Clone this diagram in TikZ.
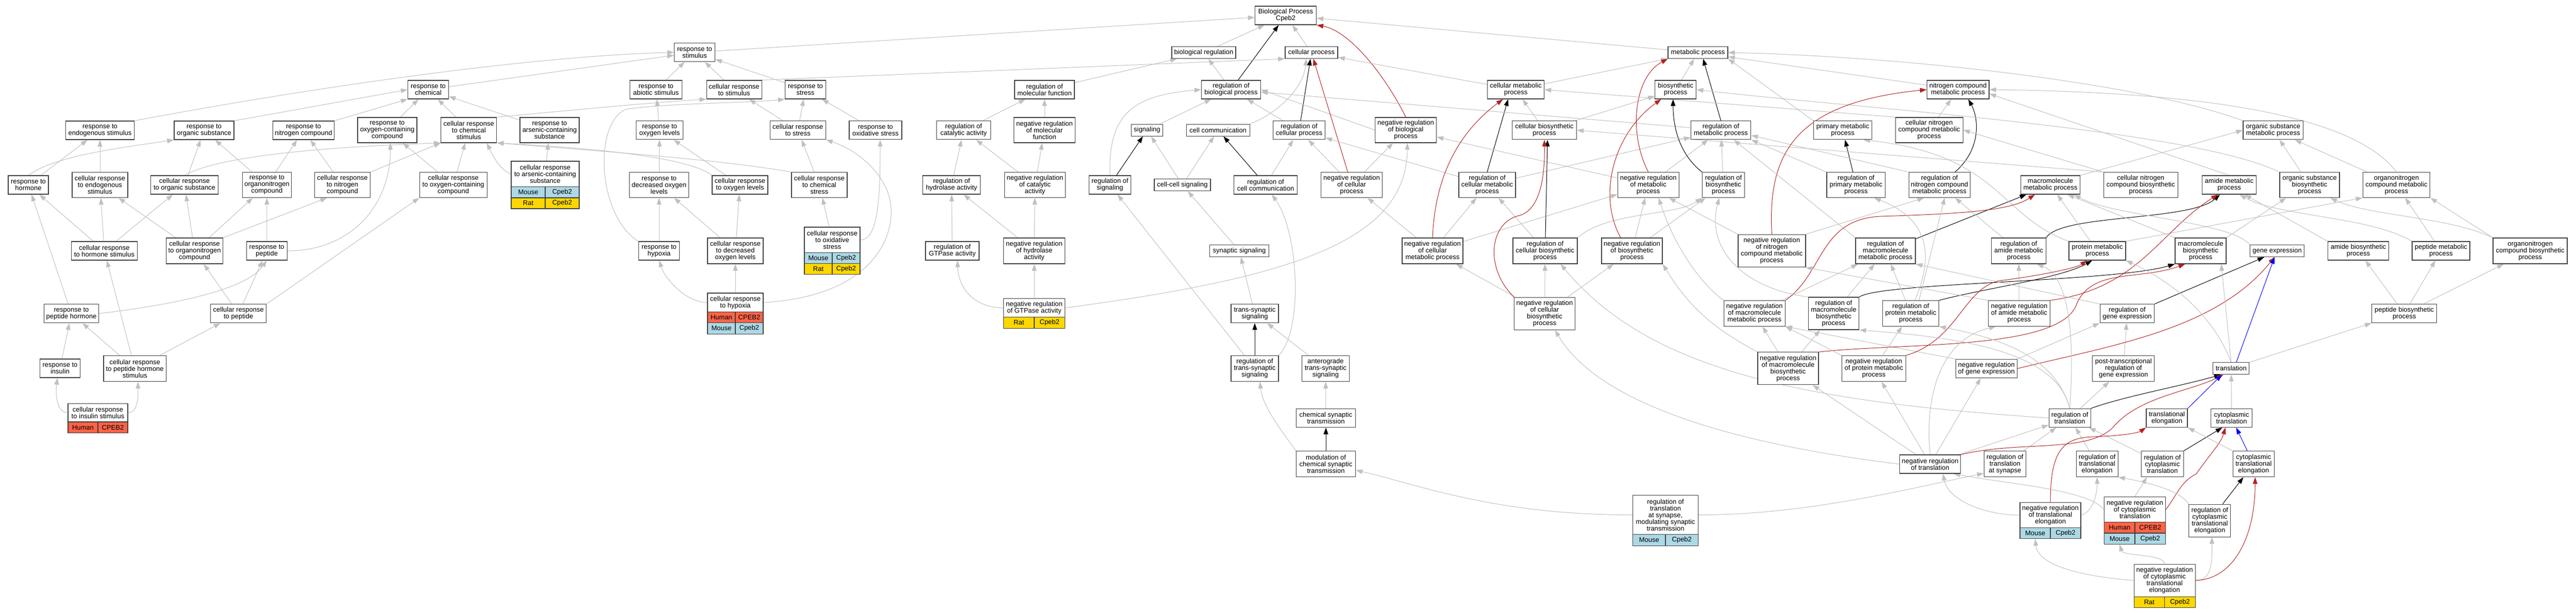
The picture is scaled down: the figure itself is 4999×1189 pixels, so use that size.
\documentclass[tikz,border=0pt]{standalone}
\usepackage{fontspec}
\setmainfont{Liberation Sans}
\usetikzlibrary{arrows.meta}
\definecolor{eg}{HTML}{C0C0C0}
\definecolor{er}{HTML}{B22222}
\definecolor{eb}{HTML}{0000FF}
\definecolor{hum}{HTML}{FF6347}
\definecolor{mou}{HTML}{ADD8E6}
\definecolor{rat}{HTML}{FFD700}
\newcommand{\gofont}{\fontsize{13}{13}\selectfont}
\pgfdeclarelayer{bg}
\pgfsetlayers{bg,main}
\tikzset{
  box/.style={draw=black!75, line width=1.2pt, fill=white, inner sep=0pt, align=center, font=\gofont},
  gcell/.style={draw=black!75, line width=1.2pt, inner sep=0pt, font=\gofont},
  ge/.style={draw=eg, line width=1.0pt, -{Triangle[length=13pt,width=9pt]}},
  ke/.style={draw=black, line width=1.0pt, -{Triangle[length=13pt,width=9pt]}},
  re/.style={draw=er, line width=1.0pt, -{Triangle[length=13pt,width=9pt]}},
  be/.style={draw=eb, line width=1.0pt, -{Triangle[length=13pt,width=9pt]}}
}
\newcommand{\gn}[6]{\node[box,minimum width=#4pt,minimum height=#5pt] (#1) at (#2,-#3) {#6};}
\newcommand{\gr}[9]{%
  \node[gcell,fill=#7,minimum width=#5pt,minimum height=#6pt] (#1-l) at (#2,-#4) {#8};
  \node[gcell,fill=#7,minimum width=#5pt,minimum height=#6pt] (#1-r) at (#3,-#4) {#9};}
\begin{document}
\begin{tikzpicture}[x=1pt,y=1pt]
\useasboundingbox (0,0) rectangle (4999,-1189);
% ---------- nodes ----------
\gn{bp}{2495}{30}{119}{36}{Biological Process\\Cpeb2}
\gn{rstim}{1348}{101.6}{79}{36}{response to\\stimulus}
\gn{breg}{2336}{102}{124}{23}{biological regulation}
\gn{cproc}{2545}{102}{102}{23}{cellular process}
\gn{metab}{3295}{102}{116}{23}{metabolic process}
\gn{rchem}{831}{174}{79}{36}{response to\\chemical}
\gn{rabio}{1273}{174}{101}{36}{response to\\abiotic stimulus}
\gn{crstim}{1424.6}{174}{107}{36}{cellular response\\to stimulus}
\gn{rstress}{1563}{174}{79}{36}{response to\\stress}
\gn{rmf}{2027}{174}{116}{36}{regulation of\\molecular function}
\gn{rbp}{2389}{174}{115}{36}{regulation of\\biological process}
\gn{cmp}{2941.6}{174}{110}{36}{cellular metabolic\\process}
\gn{bsp}{3251.7}{174}{80}{36}{biosynthetic\\process}
\gn{ncmp}{3799.7}{174}{120.5}{36}{nitrogen compound\\metabolic process}
\gn{rendo}{194}{253}{133}{36}{response to\\endogenous stimulus}
\gn{rorg}{396}{253}{116}{36}{response to\\organic substance}
\gn{rnitro}{589}{253}{119}{36}{response to\\nitrogen compound}
\gn{roxy}{751.5}{252.4}{115}{49}{response to\\oxygen-containing\\compound}
\gn{crchem}{909.8}{252.4}{108}{49}{cellular response\\to chemical\\stimulus}
\gn{rars}{1066.5}{252.4}{115}{49}{response to\\arsenic-containing\\substance}
\gn{roxl}{1280}{252.8}{91}{36}{response to\\oxygen levels}
\gn{crstress}{1548.3}{252.8}{108}{36}{cellular response\\to stress}
\gn{roxs}{1699}{252.8}{102}{36}{response to\\oxidative stress}
\gn{rca}{1870}{252.8}{105.5}{36}{regulation of\\catalytic activity}
\gn{nrmf}{2027}{252.4}{119}{49}{negative regulation\\of molecular\\function}
\gn{sig}{2226}{252.6}{61}{23}{signaling}
\gn{ccomm}{2363.7}{252.6}{123}{23}{cell communication}
\gn{rcp}{2521}{252.8}{101}{36}{regulation of\\cellular process}
\gn{nrbp}{2728}{252.4}{119}{49}{negative regulation\\of biological\\process}
\gn{cbp}{2997}{252.8}{125}{36}{cellular biosynthetic\\process}
\gn{rmp}{3339.5}{252.8}{116.5}{36}{regulation of\\metabolic process}
\gn{pmp}{3576}{252.8}{113.5}{36}{primary metabolic\\process}
\gn{cncmp}{3743.7}{252.4}{131}{49}{cellular nitrogen\\compound metabolic\\process}
\gn{osmp}{4411.2}{252.8}{116.4}{36}{organic substance\\metabolic process}
\gn{rhorm}{55}{359}{78}{36}{response to\\hormone}
\gn{crendo}{194}{359}{108}{49}{cellular response\\to endogenous\\stimulus}
\gn{crorg}{358}{359}{131}{36}{cellular response\\to organic substance}
\gn{ronc}{518}{359}{95}{49}{response to\\organonitrogen\\compound}
\gn{crnitro}{664.5}{359}{108}{49}{cellular response\\to nitrogen\\compound}
\gn{croxy}{879.7}{359}{131}{49}{cellular response\\to oxygen-containing\\compound}
\gn{crars}{1058}{337.7}{132}{49.4}{cellular response\\to arsenic-containing\\substance}
\gr{crarsa}{1025}{1091}{373.15}{66}{21.5}{mou}{Mouse}{Cpeb2}
\gr{crarsb}{1025}{1091}{394.4}{66}{21}{rat}{Rat}{Cpeb2}
\gn{rdox}{1279}{359}{115}{49}{response to\\decreased oxygen\\levels}
\gn{croxl}{1436}{359}{108}{36}{cellular response\\to oxygen levels}
\gn{crcs}{1590}{359}{108}{49}{cellular response\\to chemical\\stress}
\gn{rha}{1846.6}{359}{112}{36}{regulation of\\hydrolase activity}
\gn{nrca}{2008.5}{359}{118}{49}{negative regulation\\of catalytic\\activity}
\gn{rsig}{2154}{359}{81.5}{36}{regulation of\\signaling}
\gn{ccsig}{2294.5}{359}{109}{23}{cell-cell signaling}
\gn{rcc}{2456}{359}{123}{36}{regulation of\\cell communication}
\gn{nrcp}{2623}{359}{119}{49}{negative regulation\\of cellular\\process}
\gn{rcmp}{2886}{359}{110}{49}{regulation of\\cellular metabolic\\process}
\gn{nrmp}{3198.7}{359}{119}{49}{negative regulation\\of metabolic\\process}
\gn{rbsp}{3344.5}{359}{82}{49}{regulation of\\biosynthetic\\process}
\gn{rprim}{3601.8}{359}{113.5}{49}{regulation of\\primary metabolic\\process}
\gn{rncmp}{3763.8}{359}{119.5}{49}{regulation of\\nitrogen compound\\metabolic process}
\gn{mmp}{3979}{359}{115}{36}{macromolecule\\metabolic process}
\gn{cncbp}{4154.3}{359}{144}{49}{cellular nitrogen\\compound biosynthetic\\process}
\gn{amp}{4326}{359}{105}{36}{amide metabolic\\process}
\gn{osbp}{4482}{359}{116}{49}{organic substance\\biosynthetic\\process}
\gn{oncmp}{4650.5}{359}{130.5}{49}{organonitrogen\\compound metabolic\\process}
\gn{crhorm}{202.5}{487}{127.5}{36}{cellular response\\to hormone stimulus}
\gn{cronc}{377.6}{487}{110}{50}{cellular response\\to organonitrogen\\compound}
\gn{rpep}{517.7}{487}{79}{36}{response to\\peptide}
\gn{rhyp}{1279}{487}{79}{36}{response to\\hypoxia}
\gn{crdox}{1427}{487}{108}{50}{cellular response\\to decreased\\oxygen levels}
\gn{croxs}{1615}{465.75}{108}{49.7}{cellular response\\to oxidative\\stress}
\gr{croxsa}{1588}{1642}{501.1}{54}{21}{mou}{Mouse}{Cpeb2}
\gr{croxsb}{1588}{1642}{522.2}{54}{21}{rat}{Rat}{Cpeb2}
\gn{rgtp}{1848}{487}{104}{36}{regulation of\\GTPase activity}
\gn{nrha}{2007}{487}{119}{50}{negative regulation\\of hydrolase\\activity}
\gn{ssig}{2405}{487}{115}{23}{synaptic signaling}
\gn{nrcmp}{2780}{487}{118}{50}{negative regulation\\of cellular\\metabolic process}
\gn{rcbp}{2998.4}{487}{125}{50}{regulation of\\cellular biosynthetic\\process}
\gn{nrbsp}{3167}{487}{118}{50}{negative regulation\\of biosynthetic\\process}
\gn{nrncmp}{3438.4}{487}{131}{63.5}{negative regulation\\of nitrogen\\compound metabolic\\process}
\gn{rmmp}{3659}{487}{116}{50}{regulation of\\macromolecule\\metabolic process}
\gn{ramp}{3917.5}{487}{105.5}{50}{regulation of\\amide metabolic\\process}
\gn{prmp}{4070}{487}{110}{36}{protein metabolic\\process}
\gn{mbp}{4270.5}{487}{99}{50}{macromolecule\\biosynthetic\\process}
\gn{gexp}{4419}{487}{105}{23}{gene expression}
\gn{abp}{4576.6}{487}{118}{36}{amide biosynthetic\\process}
\gn{pepmp}{4737}{487}{112}{36}{peptide metabolic\\process}
\gn{oncbp}{4910}{487}{144}{50}{organonitrogen\\compound biosynthetic\\process}
\gn{rph}{138.5}{608.7}{106.6}{36}{response to\\peptide hormone}
\gn{crpep}{462.8}{608.7}{108}{36}{cellular response\\to peptide}
\gn{crhyp}{1427}{587.2}{108}{36.3}{cellular response\\to hypoxia}
\gr{crhypa}{1400}{1454}{615.9}{54}{21.1}{hum}{Human}{CPEB2}
\gr{crhypb}{1400}{1454}{637.3}{54}{21.8}{mou}{Mouse}{Cpeb2}
\gn{nrgtp}{2007}{597.7}{119}{35.8}{negative regulation\\of GTPase activity}
\gr{nrgtpa}{1977.25}{2036.75}{626.5}{59.5}{22}{rat}{Rat}{Cpeb2}
\gn{tss}{2435}{608.7}{92}{36}{trans-synaptic\\signaling}
\gn{nrcbsp}{2997.5}{608.6}{118}{63}{negative regulation\\of cellular\\biosynthetic\\process}
\gn{nrmmp}{3404.7}{608.4}{119}{49.6}{negative regulation\\of macromolecule\\metabolic process}
\gn{rmbp}{3558.4}{608.5}{98.6}{63}{regulation of\\macromolecule\\biosynthetic\\process}
\gn{rprmp}{3708}{608.4}{109}{49.6}{regulation of\\protein metabolic\\process}
\gn{nramp}{3918.4}{608.4}{120}{49.6}{negative regulation\\of amide metabolic\\process}
\gn{rgexp}{4128}{608.6}{105.6}{36}{regulation of\\gene expression}
\gn{pepbp}{4665.7}{608.7}{126}{36}{peptide biosynthetic\\process}
\gn{rins}{116.5}{715}{78}{36}{response to\\insulin}
\gn{crph}{261.7}{715.5}{121.5}{50}{cellular response\\to peptide hormone\\stimulus}
\gn{rtss}{2435}{715.5}{92}{50}{regulation of\\trans-synaptic\\signaling}
\gn{atss}{2572.5}{715.5}{92}{50}{anterograde\\trans-synaptic\\signaling}
\gn{nrmbp}{3470}{715.3}{118}{63}{negative regulation\\of macromolecule\\biosynthetic\\process}
\gn{nrprmp}{3636.3}{715.5}{124}{50}{negative regulation\\of protein metabolic\\process}
\gn{nrgexp}{3854.8}{715.4}{119.5}{36}{negative regulation\\of gene expression}
\gn{ptrge}{4120.8}{715.5}{120}{50}{post-transcriptional\\regulation of\\gene expression}
\gn{transl}{4329.8}{715.3}{70}{23}{translation}
\gn{crinsul}{190}{801.1}{116}{35.6}{cellular response\\to insulin stimulus}
\gr{crinsula}{161}{219}{829.8}{58}{21.8}{hum}{Human}{CPEB2}
\gn{cst}{2573}{811.4}{115}{36}{chemical synaptic\\transmission}
\gn{rtrans}{4016.6}{811.4}{81}{36}{regulation of\\translation}
\gn{telong}{4205}{811.4}{80}{36}{translational\\elongation}
\gn{ctrans}{4330.6}{811.4}{80}{36}{cytoplasmic\\translation}
\gn{mcst}{2573}{900.8}{115}{50}{modulation of\\chemical synaptic\\transmission}
\gn{nrtrans}{3745.6}{901}{118}{36}{negative regulation\\of translation}
\gn{rtas}{3890.8}{900.8}{81}{50}{regulation of\\translation\\at synapse}
\gn{rte}{4069.6}{900.8}{81}{50}{regulation of\\translational\\elongation}
\gn{rct}{4196.3}{900.8}{82}{50}{regulation of\\cytoplasmic\\translation}
\gn{cte}{4373.3}{900.8}{80}{50}{cytoplasmic\\translational\\elongation}
\gn{rtsm}{3232}{999.5}{127}{75.8}{regulation of\\translation\\at synapse,\\modulating synaptic\\transmission}
\gr{rtsma}{3200.25}{3263.75}{1048.5}{63.5}{22.2}{mou}{Mouse}{Cpeb2}
\gn{nrte}{3979}{999.9}{118}{49}{negative regulation\\of translational\\elongation}
\gr{nrtea}{3949.5}{4008.5}{1035.1}{59}{21.4}{mou}{Mouse}{Cpeb2}
\gn{nrct}{4143}{988.95}{119}{49.3}{negative regulation\\of cytoplasmic\\translation}
\gr{nrcta}{4113.25}{4172.75}{1024.3}{59.5}{21.4}{hum}{Human}{CPEB2}
\gr{nrctb}{4113.25}{4172.75}{1045.7}{59.5}{21.4}{mou}{Mouse}{Cpeb2}
\gn{rcte}{4288.3}{1010.6}{81}{63}{regulation of\\cytoplasmic\\translational\\elongation}
\gn{nrcte}{4200.6}{1126.75}{119}{63.1}{negative regulation\\of cytoplasmic\\translational\\elongation}
\gr{nrctea}{4170.85}{4230.35}{1168.8}{59.5}{21}{rat}{Rat}{Cpeb2}
% ---------- edges ----------
\begin{pgfonlayer}{bg}
\fill[white] (0,0) rectangle (4999,-1189);
% top
\draw[ge] (rstim) -- (bp);
\draw[ge] (breg) -- (bp);
\draw[ge] (cproc) -- (bp);
\draw[ge] (metab) -- (bp);
\draw[ke] (rbp) -- (bp);
\draw[re] (nrbp.north) .. controls (2690,-150) and (2620,-60) .. (bp.south east);
% response branch
\draw[ge] (rchem) -- (rstim);
\draw[ge] (rabio) -- (rstim);
\draw[ge] (crstim) -- (rstim);
\draw[ge] (rstress) -- (rstim);
\draw[ge] (rendo.north east) .. controls (550,-180) and (1000,-110) .. (rstim.west);
\draw[ge] (rorg.north east) -- (rchem.west);
\draw[ge] (rnitro.north east) -- (rchem.south west);
\draw[ge] (roxy) -- (rchem);
\draw[ge] (crchem) -- (rchem);
\draw[ge] (rars) -- (rchem);
\draw[ge] (crchem.north east) .. controls (1100,-215) and (1250,-200) .. (crstim.south west);
\draw[ge] (roxl) -- (rabio);
\draw[ge] (crstress) -- (crstim);
\draw[ge] (crstress) -- (rstress);
\draw[ge] (roxs) -- (rstress);
\draw[ge] (crstim.north east) -- (cproc.south west);
\draw[ge] (rhorm) -- (rendo);
\draw[ge] (rhorm.north) .. controls (110,-300) and (250,-285) .. (rorg.south west);
\draw[ge] (crendo) -- (rendo);
\draw[ge] (crorg) -- (rorg);
\draw[ge] (crorg.north) .. controls (430,-300) and (650,-285) .. (crchem.south west);
\draw[ge] (crnitro.north east) -- (crchem.south west);
\draw[ge] (ronc) -- (rorg);
\draw[ge] (ronc) -- (rnitro);
\draw[ge] (crnitro) -- (rnitro);
\draw[ge] (croxy) -- (roxy);
\draw[ge] (croxy) -- (crchem);
\draw[ge] (rpep.east) .. controls (680,-487) and (758,-400) .. ([xshift=6pt]roxy.south);
\draw[ge] (rpep) -- (ronc);
\draw[ge] (crhorm) -- (rhorm);
\draw[ge] (crhorm) -- (crendo);
\draw[ge] (crhorm) -- (crorg);
\draw[ge] (cronc) -- (crendo);
\draw[ge] (cronc) -- (crorg);
\draw[ge] (cronc) -- (ronc);
\draw[ge] (cronc.north east) -- ([xshift=-30pt]crnitro.south);
\draw[ge] (rph) -- (rhorm);
\draw[ge] (rph.east) .. controls (350,-590) and (480,-560) .. (rpep.south);
\draw[ge] (crpep) -- (cronc);
\draw[ge] (crpep) -- (rpep);
\draw[ge] (crpep.north east) -- (croxy.south west);
\draw[ge] (crph) -- (crhorm);
\draw[ge] (crph) -- (rph);
\draw[ge] (crph) -- (crpep);
\draw[ge] (rins) -- (rph);
\draw[ge] (crinsul.west) .. controls (108,-801) and (108,-760) .. ([xshift=-5pt]rins.south);
\draw[ge] (crinsul.east) .. controls (268,-801) and (268,-770) .. ([xshift=6pt]crph.south);
\draw[ge] (crars) -- (rars);
\draw[ge] (crars.west) .. controls (970,-330) and (955,-300) .. ([xshift=35pt]crchem.south);
\draw[ge] (rdox) -- (roxl);
\draw[ge] (croxl) -- (roxl);
\draw[ge] (croxl.north west) .. controls (1330,-300) and (1100,-285) .. (crchem.south east);
\draw[ge] (crcs.north west) .. controls (1400,-310) and (1150,-292) .. (crchem.south east);
\draw[ge] (crcs) -- (crstress);
\draw[ge] (rhyp) -- (rdox);
\draw[ge] (rhyp.north west) .. controls (1160,-420) and (1150,-240) .. (1215,-212) .. controls (1300,-200) and (1450,-200) .. (rstress.south west);
\draw[ge] (crdox) -- (rdox);
\draw[ge] (crdox) -- (croxl);
\draw[ge] (croxs) -- (crcs);
\draw[ge] (croxs.east) .. controls (1705,-466) and (1708,-380) .. ([xshift=9pt]roxs.south);
\draw[ge] (crhyp.west) .. controls (1330,-587) and (1290,-540) .. (rhyp.south);
\draw[ge] (crhyp) -- (crdox);
\draw[ge] (crhyp.east) .. controls (1700,-575) and (1745,-450) .. (1725,-380) .. controls (1710,-330) and (1660,-290) .. (crstress.south east);
% regulation / signalling
\draw[ge] (rmf) -- (breg);
\draw[ge] (rbp) -- (breg);
\draw[ge] (rca) -- (rmf);
\draw[ge] (nrmf) -- (rmf);
\draw[ge] (sig) -- (rbp);
\draw[ge] (ccomm.north east) .. controls (2480,-220) and (2530,-170) .. ([xshift=-10pt]cproc.south);
\draw[ge] (rcp) -- (rbp);
\draw[ke] (rcp) -- (cproc);
\draw[ge] (rha) -- (rca);
\draw[ge] (nrca) -- (rca);
\draw[ge] (nrca) -- (nrmf);
\draw[ge] (rsig.north) .. controls (2150,-220) and (2200,-185) .. (rbp.west);
\draw[ke] (rsig) -- (sig);
\draw[ge] (ccsig) -- (sig);
\draw[ge] (ccsig) -- (ccomm);
\draw[ke] (rcc) -- (ccomm);
\draw[ge] (rcc) -- (rcp);
\draw[ge] (rgtp) -- (rha);
\draw[ge] (nrha) -- (rha);
\draw[ge] (nrha) -- (nrca);
\draw[ge] (nrgtp.west) .. controls (1890,-597) and (1860,-560) .. ([xshift=10pt]rgtp.south);
\draw[ge] (nrgtp) -- (nrha);
\draw[ge] (nrgtp.east) .. controls (2500,-540) and (2730,-470) .. ([xshift=3pt]nrbp.south);
\draw[ge] (rtss) -- (rsig);
\draw[ge] (rtss.north east) .. controls (2530,-640) and (2520,-450) .. ([xshift=12pt]rcc.south);
\draw[ge] (ssig) -- (ccsig);
\draw[ge] (tss) -- (ssig);
\draw[ke] (rtss) -- (tss);
\draw[ge] (atss) -- (tss);
\draw[ge] (cst) -- (atss);
\draw[ke] (mcst) -- (cst);
\draw[ge] (mcst.north west) .. controls (2490,-840) and (2450,-790) .. ([xshift=10pt]rtss.south);
\draw[ge] (rtsm.west) .. controls (2900,-1000) and (2750,-940) .. ([yshift=-12pt]mcst.east);
\draw[ge] (rtsm.east) .. controls (3500,-1000) and (3700,-950) .. ([yshift=-18pt]rtas.west);
% metabolism
\draw[ge] (cmp) -- (cproc);
\draw[ge] (cmp) -- (metab);
\draw[ge] (nrbp.west) -- (rbp.east);
\draw[re] (nrcp) -- (cproc);
\draw[ge] (nrcp) -- (rcp);
\draw[ge] (nrcp) -- (nrbp);
\draw[ge] (rcmp) -- (rcp);
\draw[ke] (rcmp.north) -- ([xshift=-15pt]cmp.south);
\draw[ge] (rcmp) -- (rmp);
\draw[ge] (cbp) -- (cmp);
\draw[ge] (cbp) -- (bsp);
\draw[ge] (bsp) -- (metab);
\draw[ke] (rmp.north) -- ([xshift=10pt]metab.south);
\draw[ge] (rmp) -- (rbp);
\draw[ge] (nrmp) -- (nrbp);
\draw[re] (nrmp.north) .. controls (3160,-260) and (3170,-150) .. (metab.south west);
\draw[ge] (nrmp) -- (rmp);
\draw[ge] (rbsp) -- (rmp);
\draw[ke] (rbsp.north west) .. controls (3260,-300) and (3247,-250) .. ([xshift=-5pt]bsp.south);
\draw[ge] (nrcmp) -- (nrcp);
\draw[ge] (nrcmp) -- (rcmp);
\draw[re] (nrcmp.north) .. controls (2785,-330) and (2840,-250) .. ([xshift=-25pt]cmp.south);
\draw[ge] (nrcmp) -- (nrmp);
\draw[ge] (rcbp) -- (rcmp);
\draw[ke] (rcbp) -- ([xshift=6pt]cbp.south);
\draw[ge] (rcbp.north east) .. controls (3120,-410) and (3250,-420) .. (rbsp.south west);
\draw[ge] (nrbsp) -- (nrmp);
\draw[re] ([xshift=-22pt]nrbsp.north) .. controls (3100,-380) and (3130,-260) .. ([xshift=-28pt]bsp.south);
\draw[ge] (nrbsp) -- (rbsp);
\draw[ge] (nrcbsp) -- (nrcmp);
\draw[ge] (nrcbsp) -- (rcbp);
\draw[ge] (nrcbsp) -- (nrbsp);
\draw[re] (nrcbsp.north west) .. controls (2880,-520) and (2890,-430) .. (2950,-418) .. controls (2990,-405) and (2998,-340) .. (cbp.south);
\draw[ge] (ncmp) -- (metab);
\draw[ge] (pmp.north west) -- (metab.south east);
\draw[ge] (osmp.north west) .. controls (4150,-160) and (3700,-110) .. (metab.east);
\draw[ge] (cncmp) -- (ncmp);
\draw[ge] (cncmp.north west) -- (cmp.east);
\draw[ge] (rprim.north west) -- (rmp.south east);
\draw[ke] (rprim) -- (pmp);
\draw[ge] (rncmp.north west) -- ([yshift=-10pt]rmp.east);
\draw[ke] ([xshift=30pt]rncmp.north) .. controls (3845,-290) and (3840,-230) .. ([xshift=20pt]ncmp.south);
\draw[ge] (cncbp.north west) -- (cncmp.east);
\draw[ge] (cncbp.north west) -- (cbp.east);
\draw[ge] (oncmp.north) .. controls (4580,-240) and (4350,-180) .. (ncmp.east);
\draw[ge] (amp.north) -- ([yshift=-8pt]ncmp.east);
\draw[ge] (osbp.north west) .. controls (4250,-250) and (3600,-210) .. (bsp.east);
\draw[ge] (osbp) -- (osmp);
\draw[ge] (oncmp) -- (osmp);
\draw[ge] (mmp.north east) -- (osmp.west);
\draw[ge] (nrncmp.north east) -- ([xshift=-30pt]rncmp.south);
\draw[re] (nrncmp.north) .. controls (3430,-300) and (3480,-200) .. (ncmp.west);
\draw[ge] (nrncmp.north west) -- ([xshift=40pt]nrmp.south);
\draw[ge] (rmmp.north west) -- ([xshift=25pt]rmp.south);
\draw[ke] (rmmp) -- (mmp);
\draw[ge] (ramp) -- (rncmp);
\draw[ke] (ramp.north east) .. controls (4000,-415) and (4250,-430) .. ([xshift=-18pt]amp.south);
\draw[ge] (prmp) -- (mmp);
\draw[ge] (prmp.north east) -- (oncmp.south west);
\draw[ge] (prmp.north west) .. controls (3880,-420) and (3880,-300) .. ([xshift=40pt]pmp.south);
\draw[ge] (nrmmp) -- (rmmp);
\draw[re] (nrmmp.north east) .. controls (3540,-530) and (3530,-425) .. (3650,-420) .. controls (3800,-415) and (3900,-410) .. ([xshift=-30pt]mmp.south);
\draw[ge] (nrmmp.north west) .. controls (3300,-550) and (3250,-480) .. ([xshift=20pt]nrmp.south);
\draw[ge] (rmbp) -- (rmmp);
\draw[ge] (rmbp.north west) .. controls (3380,-560) and (3310,-480) .. ([xshift=-8pt]rbsp.south);
\draw[ke] (rmbp.north east) .. controls (3650,-548) and (4100,-548) .. (mbp.south west);
\draw[ge] (rprmp) -- (rmmp);
\draw[ge] ([xshift=16pt]rprmp.north) -- ([xshift=10pt]rncmp.south);
\draw[ge] ([xshift=8pt]rprmp.north) .. controls (3760,-480) and (3730,-420) .. ([xshift=35pt]rprim.south);
\draw[ke] (rprmp.north east) .. controls (3850,-560) and (4000,-540) .. ([xshift=-10pt]prmp.south);
\draw[ge] (nramp) -- (ramp);
\draw[ge] (nramp.north west) -- (nrncmp.south east);
\draw[re] (nramp.north east) .. controls (4150,-560) and (4190,-450) .. ([xshift=-22pt]amp.south);
\draw[ge] (rgexp.north west) -- (rmmp.south east);
\draw[ke] (rgexp.north east) -- ([xshift=-25pt]gexp.south);
\draw[ge] (ptrge) -- (rgexp);
\draw[ge] (nrgexp.north east) -- (rgexp.south west);
\draw[ge] (nrgexp.north west) -- (nrmmp.south east);
\draw[re] (nrgexp.east) .. controls (4100,-670) and (4300,-640) .. ([xshift=-5pt]gexp.south);
\draw[ge] (nrmbp) -- (rmbp);
\draw[ge] (nrmbp) -- (nrmmp);
\draw[ge] (nrmbp.north west) .. controls (3330,-640) and (3280,-600) .. (nrbsp.south east);
\draw[re] (nrmbp.north east) .. controls (3700,-665) and (4000,-680) .. (4030,-590) .. controls (4060,-520) and (4150,-545) .. ([xshift=-30pt]mbp.south);
\draw[ge] (nrprmp) -- (rprmp);
\draw[ge] (nrprmp.north west) -- (nrmmp.south east);
\draw[re] (nrprmp.north east) .. controls (3800,-660) and (3810,-560) .. (3880,-545) .. controls (3960,-535) and (4030,-520) .. ([xshift=-20pt]prmp.south);
% translation
\draw[ge] (rtrans) -- (ptrge);
\draw[ke] (rtrans.north east) .. controls (4120,-770) and (4230,-750) .. ([xshift=-20pt]transl.south);
\draw[ge] (rtrans.north) .. controls (3990,-700) and (3900,-660) .. (rprmp.south east);
\draw[ge] (rtrans.north) .. controls (3990,-680) and (3800,-655) .. (rmbp.south east);
\draw[ge] (rtrans.north) .. controls (4030,-600) and (4000,-530) .. ([xshift=35pt]ramp.south);
\draw[ge] (rtrans.west) .. controls (3500,-780) and (3200,-720) .. ([xshift=30pt]rcbp.south);
\draw[ge] (rtas) -- (rtrans);
\draw[ge] (nrtrans) -- (rtrans);
\draw[ge] (rte) -- (rtrans);
\draw[ge] (rct) -- (rtrans);
\draw[ge] (nrtrans) -- (nrgexp);
\draw[ge] (nrtrans) -- (nrprmp);
\draw[ge] (nrtrans) -- (nrmbp);
\draw[ge] (nrtrans.north) .. controls (3735,-780) and (3760,-660) .. ([xshift=-45pt]nramp.south);
\draw[ge] (nrtrans.west) .. controls (3350,-860) and (3100,-780) .. ([xshift=20pt]nrcbsp.south);
\draw[re] (nrtrans.north east) .. controls (3920,-855) and (4050,-880) .. (4100,-830) .. controls (4150,-770) and (4250,-760) .. ([xshift=-15pt]transl.south);
\draw[ge] (nrte.east) .. controls (4060,-995) and (4070,-960) .. (rte.south);
\draw[ge] (nrte.west) .. controls (3850,-1000) and (3780,-970) .. ([xshift=25pt]nrtrans.south);
\draw[re] (nrte.north) .. controls (3979,-880) and (4000,-850) .. (4060,-848) .. controls (4120,-846) and (4150,-840) .. (telong.south west);
\draw[ge] (nrct.north) -- ([xshift=-30pt]rct.south);
\draw[ge] (nrct.west) .. controls (4050,-950) and (3900,-940) .. ([xshift=45pt]nrtrans.south);
\draw[re] (nrct.east) .. controls (4225,-960) and (4232,-935) .. (4262,-920) .. controls (4290,-880) and (4310,-860) .. ([xshift=-12pt]ctrans.south);
\draw[ke] (rct.north east) -- ([xshift=-18pt]ctrans.south);
\draw[ge] (cte.north west) -- (telong.south east);
\draw[be] (cte) -- (ctrans);
\draw[ke] (rcte) -- (cte);
\draw[ge] (rcte.north west) .. controls (4230,-950) and (4160,-935) .. (rte.south east);
\draw[ge] (nrcte.west) .. controls (4050,-1120) and (3955,-1100) .. (nrtea-l.south);
\draw[ge] (nrcte.north) .. controls (4200,-1075) and (4120,-1080) .. (nrctb-l.south);
\draw[ge] (nrcte.east) .. controls (4290,-1126) and (4293,-1100) .. ([xshift=4pt]rcte.south);
\draw[re] (nrcte.east) .. controls (4330,-1125) and (4376,-1050) .. ([xshift=3pt]cte.south);
\draw[ge] (ctrans) -- (transl);
\draw[be] (telong.north east) -- ([xshift=-18pt]transl.south);
\draw[be] ([xshift=10pt]transl.north) -- ([xshift=-5pt]gexp.south);
\draw[ge] (transl.north) -- ([xshift=40pt]mbp.south);
\draw[ge] (transl.north) .. controls (4290,-600) and (4200,-540) .. (prmp.south east);
\draw[ge] (transl.north east) -- (pepbp.south west);
\draw[ge] (pepbp) -- (abp);
\draw[ge] (pepbp) -- (pepmp);
\draw[ge] (pepbp) -- (oncbp);
\draw[ge] (pepmp) -- (oncmp);
\draw[ge] (pepmp.north west) .. controls (4600,-420) and (4420,-420) .. ([xshift=20pt]amp.south);
\draw[ge] (abp.north west) -- ([xshift=30pt]amp.south);
\draw[ge] (oncbp.north west) -- (oncmp.south east);
\draw[ge] (oncbp.north west) .. controls (4750,-420) and (4600,-420) .. ([xshift=40pt]osbp.south);
\draw[ge] (mbp.north west) -- ([xshift=-25pt]mmp.south east);
\draw[ge] (mbp.north east) -- ([xshift=13pt]osbp.south west);
\draw[ge] (gexp.north west) .. controls (4330,-430) and (4100,-420) .. ([xshift=-12pt]mmp.south east);
\end{pgfonlayer}
\end{tikzpicture}
\end{document}
